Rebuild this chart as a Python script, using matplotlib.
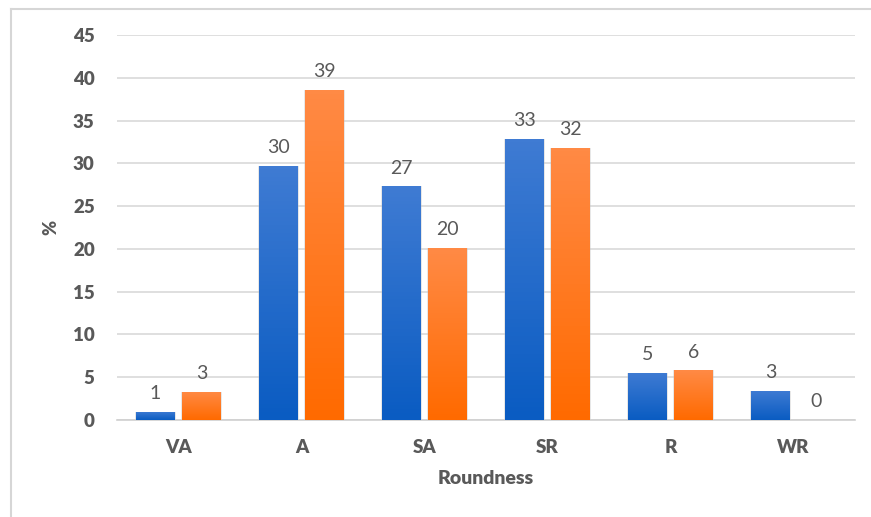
import numpy as np
import matplotlib.pyplot as plt
from matplotlib.patches import Rectangle

plt.rcParams['font.family'] = ['Lato', 'DejaVu Sans']

# data
categories = ['VA', 'A', 'SA', 'SR', 'R', 'WR']
blue_vals = [0.95, 29.7, 27.3, 32.9, 5.5, 3.4]
orange_vals = [3.3, 38.6, 20.1, 31.8, 5.8, 0.0]
blue_labels = ['1', '30', '27', '33', '5', '3']
orange_labels = ['3', '39', '20', '32', '6', '0']

txt = '#595959'
fig = plt.figure(figsize=(8.71, 5.17), dpi=100)
ax = fig.add_axes([0.1343, 0.1876, 0.8473, 0.7447])

x = np.arange(len(categories))
w = 0.31
off = 0.187

def grad_bars(xs, vals, top, bottom):
    bars = ax.bar(xs, vals, w, color='none', zorder=3)
    grad = np.linspace(0, 1, 64).reshape(-1, 1)
    c0 = np.array(plt.matplotlib.colors.to_rgb(bottom))
    c1 = np.array(plt.matplotlib.colors.to_rgb(top))
    img = c0 + (c1 - c0) * grad[..., None]
    for b in bars:
        bx, by = b.get_x(), b.get_y()
        bw, bh = b.get_width(), b.get_height()
        if bh <= 0:
            continue
        # soft side shadow
        sh = Rectangle((bx - 0.014, by), bw + 0.028, bh, color='#bdbdbd',
                       alpha=0.35, zorder=2, lw=0)
        ax.add_patch(sh)
        im = ax.imshow(img, extent=[bx, bx + bw, by, by + bh], origin='lower',
                       aspect='auto', zorder=3)
        im.set_clip_path(b)
    return bars

bb = grad_bars(x - off, blue_vals, '#3f7bd3', '#0a5cc2')
ob = grad_bars(x + off, orange_vals, '#ff8a45', '#ff6a00')

for xs, vals, labs in [(x - off, blue_vals, blue_labels), (x + off, orange_vals, orange_labels)]:
    for xi, v, s in zip(xs, vals, labs):
        ax.annotate(s, (xi, v), xytext=(0, 7), textcoords='offset points',
                    ha='center', va='bottom', fontsize=14, color=txt)

ax.set_xlim(-0.5, len(categories) - 0.5)
ax.set_ylim(0, 45)
ax.set_yticks(range(0, 46, 5))
ax.set_xticks(x)
ax.set_xticklabels(categories)
ax.yaxis.grid(True, color='#d9d9d9', lw=1.2, zorder=0)
ax.set_axisbelow(True)
for s in ['top', 'right', 'left']:
    ax.spines[s].set_visible(False)
ax.spines['bottom'].set_color('#d0d0d0')
ax.spines['bottom'].set_linewidth(1.2)
ax.tick_params(length=0)
ax.tick_params(axis='y', pad=16)
ax.tick_params(axis='x', pad=14)
for lab in ax.get_xticklabels() + ax.get_yticklabels():
    lab.set_fontweight('heavy')
    lab.set_fontsize(13.5)
    lab.set_color(txt)
ax.set_xlabel('Roundness', fontsize=14, fontweight='heavy', color=txt, labelpad=10)
ax.set_ylabel('%', fontsize=13, fontweight='heavy', color=txt, labelpad=10)

# outer frame
fig.add_artist(plt.Line2D([11 / 871, 11 / 871], [0, 1 - 9 / 517], color='#d6d6d6', lw=1.5))
fig.add_artist(plt.Line2D([11 / 871, 1], [1 - 9 / 517, 1 - 9 / 517], color='#d6d6d6', lw=1.5))

fig.savefig('out.png', dpi=100)
